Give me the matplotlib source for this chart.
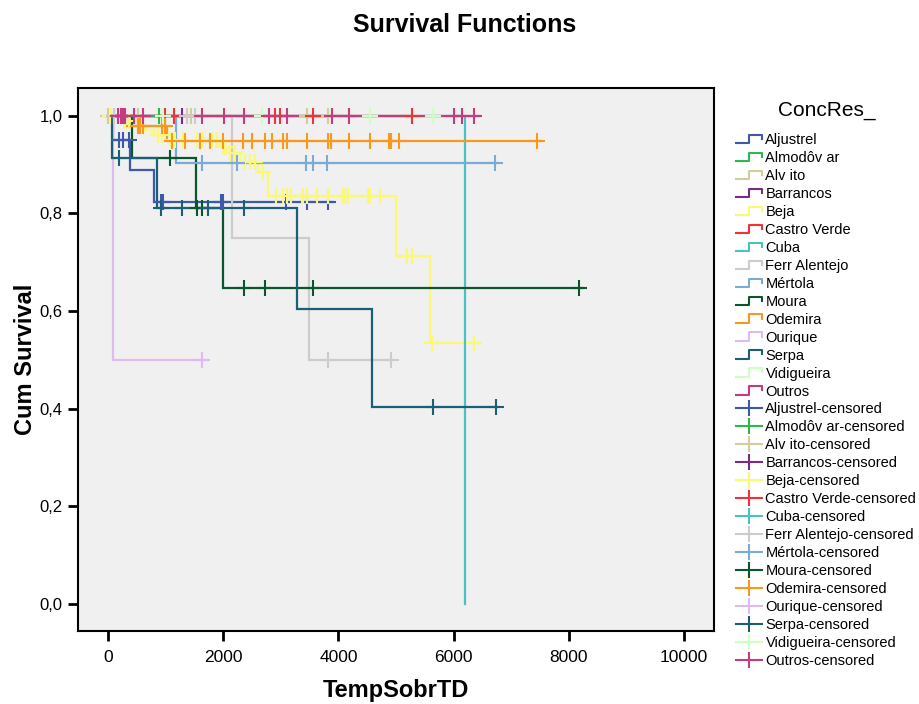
import matplotlib
matplotlib.use("Agg")
import matplotlib.pyplot as plt
from matplotlib.lines import Line2D
from matplotlib.legend_handler import HandlerBase
from matplotlib.ticker import FuncFormatter
import numpy as np

plt.rcParams['font.family'] = ['Liberation Sans', 'DejaVu Sans']

# ---- data: Kaplan-Meier estimates per group ----
groups = ["Aljustrel", "Almodôv ar", "Alv ito", "Barrancos", "Beja", "Castro Verde",
          "Cuba", "Ferr Alentejo", "Mértola", "Moura", "Odemira", "Ourique",
          "Serpa", "Vidigueira", "Outros"]

colors = ["#3e58ac", "#2eb848", "#d3ce97", "#7b2b83", "#fbf873", "#ef3338",
          "#48c2c5", "#cccccc", "#7aaad5", "#0a562c", "#f8981d", "#ddbaf1",
          "#1a5f76", "#ccffc0", "#c63b7f"]

# event times and survival after each event
aljustrel_events = [95, 390, 800]
aljustrel_surv = [0.950, 0.889, 0.824]
aljustrel_cens = [197, 255, 370, 915, 960, 1957, 2002, 3085, 3450, 3813]
aljustrel_end = 3900

almodovar_events = []
almodovar_surv = []
almodovar_cens = [30, 885]
almodovar_end = 885

alvito_events = []
alvito_surv = []
alvito_cens = [0, 520, 1450, 3450, 3825]
alvito_end = 3825

barrancos_events = []
barrancos_surv = []
barrancos_cens = [220, 1280]
barrancos_end = 1280

beja_events = [170, 400, 650, 800, 1000, 1960, 2060, 2300, 2610, 2785, 5000, 5590]
beja_surv = [0.990, 0.980, 0.970, 0.960, 0.950, 0.937, 0.923, 0.906, 0.884,
             0.835, 0.713, 0.534]
beja_cens = [30, 100, 300, 370, 550, 870, 930, 1100, 1170, 1300, 1540, 1650,
             1800, 1900, 2030, 2118, 2205, 2378, 2465, 2552, 2700, 2911, 3032,
             3102, 3171, 3362, 3391, 3460, 3623, 3825, 4085, 4115, 4172, 4519,
             4549, 4722, 5197, 5272, 5620, 6354]
beja_end = 6400

castro_events = []
castro_surv = []
castro_cens = [250, 990, 1145, 2900, 2986, 3554, 5272]
castro_end = 5272

cuba_events = [6190]
cuba_surv = [0.0]
cuba_cens = []
cuba_end = 6190

ferr_events = [2147, 3490]
ferr_surv = [0.75, 0.50]
ferr_cens = [110, 1365, 1510, 3814, 4908]
ferr_end = 4950

mertola_events = [1180]
mertola_surv = [0.903]
mertola_cens = [1627, 2234, 3438, 3554, 3808, 6719]
mertola_end = 6760

moura_events = [411, 1525, 1991]
moura_surv = [0.913, 0.811, 0.648]
moura_cens = [1076, 1550, 1627, 2366, 2726, 3565, 8183]
moura_end = 8230

odemira_events = [300, 1020]
odemira_surv = [0.979, 0.949]
odemira_cens = [520, 560, 610, 930, 990, 1105, 1337, 1597, 1771, 2002, 2349,
                2494, 2726, 2841, 3043, 3102, 3448, 3825, 3866, 4184, 4549,
                4884, 4908, 5052, 7443]
odemira_end = 7517

ourique_events = [80]
ourique_surv = [0.5]
ourique_cens = [1637]
ourique_end = 1680

serpa_events = [70, 845, 3276, 4578]
serpa_surv = [0.913, 0.811, 0.605, 0.404]
serpa_cens = [191, 915, 1279, 1741, 2366, 5637, 6731]
serpa_end = 6760

vidigueira_events = []
vidigueira_surv = []
vidigueira_cens = [950, 2668, 4549, 5637]
vidigueira_end = 5637

outros_events = []
outros_surv = []
outros_cens = [175, 225, 260, 295, 450, 610, 1625, 2014, 2366, 2800, 3100,
               3884, 4184, 6007, 6140, 6354]
outros_end = 6440

series = [
    (aljustrel_events, aljustrel_surv, aljustrel_cens, aljustrel_end),
    (almodovar_events, almodovar_surv, almodovar_cens, almodovar_end),
    (alvito_events, alvito_surv, alvito_cens, alvito_end),
    (barrancos_events, barrancos_surv, barrancos_cens, barrancos_end),
    (beja_events, beja_surv, beja_cens, beja_end),
    (castro_events, castro_surv, castro_cens, castro_end),
    (cuba_events, cuba_surv, cuba_cens, cuba_end),
    (ferr_events, ferr_surv, ferr_cens, ferr_end),
    (mertola_events, mertola_surv, mertola_cens, mertola_end),
    (moura_events, moura_surv, moura_cens, moura_end),
    (odemira_events, odemira_surv, odemira_cens, odemira_end),
    (ourique_events, ourique_surv, ourique_cens, ourique_end),
    (serpa_events, serpa_surv, serpa_cens, serpa_end),
    (vidigueira_events, vidigueira_surv, vidigueira_cens, vidigueira_end),
    (outros_events, outros_surv, outros_cens, outros_end),
]

x_ticks = [0, 2000, 4000, 6000, 8000, 10000]
y_ticks = [0.0, 0.2, 0.4, 0.6, 0.8, 1.0]


def surv_at(t, events, surv):
    s = 1.0
    for e, v in zip(events, surv):
        if e <= t:
            s = v
    return s


W, H = 920, 704
fig = plt.figure(figsize=(W / 100, H / 100), dpi=100)
fig.patch.set_facecolor("white")
ax = fig.add_axes([78 / W, 1 - 631 / H, (714 - 78) / W, (631 - 88) / H])
ax.set_facecolor("#f0f0f0")

LW = 1.6
# step curves
for (ev, sv, cs, end), col in zip(series, colors):
    xs = [0] + list(ev) + [end]
    ys = [1.0] + list(sv) + [sv[-1] if sv else 1.0]
    ax.step(xs, ys, where="post", color=col, lw=LW, solid_joinstyle="miter")
# censoring marks
for (ev, sv, cs, end), col in zip(series, colors):
    if cs:
        cy = [surv_at(t, ev, sv) for t in cs]
        ax.plot(cs, cy, linestyle="none", marker="+", markersize=11,
                markeredgewidth=1.5, color=col)

ax.set_xlim(-520, 10520)
ax.set_ylim(-0.055, 1.057)
ax.set_xticks(x_ticks)
ax.set_yticks(y_ticks)
ax.yaxis.set_major_formatter(FuncFormatter(lambda v, p: f"{v:.1f}".replace(".", ",")))
ax.tick_params(direction="out", length=7, width=2, labelsize=12, pad=4)
ax.tick_params(axis="x", labelsize=12.5, pad=7)
for sp in ax.spines.values():
    sp.set_linewidth(1.5)
    sp.set_color("black")

ax.set_xlabel("TempSobrTD", fontsize=17, fontweight="bold", labelpad=10)
ax.set_ylabel("Cum Survival", fontsize=17, fontweight="bold", labelpad=2)
fig.text(0.505, 1 - 25 / H, "Survival Functions", ha="center", va="center",
         fontsize=18, fontweight="bold")


class StepHandler(HandlerBase):
    def create_artists(self, legend, orig_handle, xdescent, ydescent, width,
                       height, fontsize, trans):
        x0, y0 = -xdescent, -ydescent
        xs = np.array([0.0, 0.5, 0.5, 1.0, 1.0]) * width + x0
        ys = np.array([0.1, 0.1, 0.9, 0.9, 0.5]) * height + y0
        ln = Line2D(xs, ys, color=orig_handle.get_color(), lw=1.5, transform=trans)
        return [ln]


handles, labels = [], []
for g, col in zip(groups, colors):
    handles.append(Line2D([], [], color=col))
    labels.append(g)
cens_handles = []
for g, col in zip(groups, colors):
    h = Line2D([], [], color=col, lw=1.5, marker="|", markersize=11,
               markeredgewidth=1.5)
    cens_handles.append(h)
    labels.append(g + "-censored")

fig.text(827 / W, 1 - 111 / H, "ConcRes_", ha="center", va="center", fontsize=15)
handler_map = {h: StepHandler() for h in handles}
leg = fig.legend(handles + cens_handles, labels, handler_map=handler_map,
                 loc="upper left", bbox_to_anchor=(736 / W, 1 - 133 / H),
                 frameon=False, fontsize=10.5, handlelength=1.75,
                 handletextpad=0.27, labelspacing=0.272, numpoints=1,
                 borderpad=0.0, borderaxespad=0.0)

fig.savefig("out.png", dpi=100)
